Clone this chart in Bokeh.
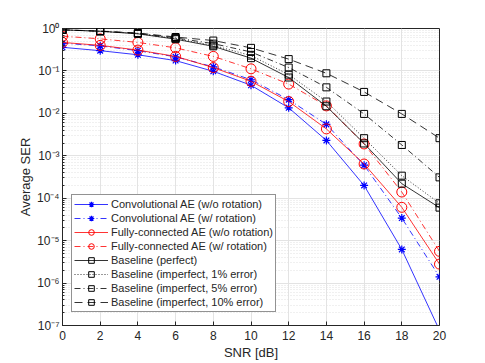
from bokeh.plotting import figure
from bokeh.models import (Range1d, CustomJSTickFormatter, FixedTicker,
                          Legend, LegendItem, LogTicker)
from bokeh.embed import file_html
from bokeh.resources import INLINE

snr = [0, 2, 4, 6, 8, 10, 12, 14, 16, 18, 20]
conv_wo = [0.36, 0.30, 0.24, 0.175, 0.098, 0.046, 0.0135, 0.0023, 2.0e-4, 6.2e-6, 7.7e-8]
conv_w = [0.45, 0.39, 0.30, 0.215, 0.125, 0.062, 0.021, 0.0055, 6.0e-4, 3.4e-5, 1.4e-6]
fc_wo = [0.47, 0.40, 0.31, 0.22, 0.12, 0.057, 0.019, 0.0043, 6.4e-4, 6.1e-5, 2.8e-6]
fc_w = [0.66, 0.57, 0.47, 0.35, 0.22, 0.112, 0.049, 0.015, 1.9e-3, 1.4e-4, 5.6e-6]
base_perfect = [0.93, 0.86, 0.75, 0.56, 0.38, 0.20, 0.070, 0.0147, 1.95e-3, 2.2e-4, 6.0e-5]
base_1 = [0.93, 0.86, 0.76, 0.58, 0.40, 0.23, 0.082, 0.019, 2.6e-3, 3.4e-4, 7.6e-5]
base_5 = [0.93, 0.86, 0.77, 0.60, 0.44, 0.28, 0.12, 0.041, 0.0097, 1.8e-3, 3.1e-4]
base_10 = [0.93, 0.87, 0.78, 0.63, 0.52, 0.35, 0.19, 0.088, 0.032, 0.0097, 2.6e-3]

labels = ["Convolutional AE (w/o rotation)", "Convolutional AE (w/ rotation)",
          "Fully-connected AE (w/o rotation)", "Fully-connected AE (w/ rotation)",
          "Baseline (perfect)", "Baseline (imperfect, 1% error)",
          "Baseline (imperfect, 5% error)", "Baseline (imperfect, 10% error)"]
x_ticks = [0, 2, 4, 6, 8, 10, 12, 14, 16, 18, 20]

FONT = "Liberation Sans"
TXT = "#262626"

p = figure(width=485, height=363, y_axis_type="log", output_backend="svg",
           toolbar_location=None, x_range=Range1d(0, 20), y_range=Range1d(1e-7, 1),
           min_border_left=62, min_border_right=46, min_border_top=28, min_border_bottom=38)
p.background_fill_color = "white"
p.border_fill_color = "white"
p.outline_line_color = TXT
p.outline_line_width = 1

sup = CustomJSTickFormatter(code="""
const m = {'-':'\\u207b','0':'\\u2070','1':'\\u00b9','2':'\\u00b2','3':'\\u00b3','4':'\\u2074','5':'\\u2075','6':'\\u2076','7':'\\u2077','8':'\\u2078','9':'\\u2079'};
const e = String(Math.round(Math.log10(tick)));
let s = '';
for (const c of e) s += m[c];
return '10' + s;
""")

p.yaxis.ticker = LogTicker(num_minor_ticks=10, desired_num_ticks=8)
p.yaxis.formatter = sup
p.xaxis.ticker = FixedTicker(ticks=x_ticks)

for ax in [p.xaxis[0], p.yaxis[0]]:
    ax.major_tick_in = 4
    ax.major_tick_out = 0
    ax.minor_tick_in = 2
    ax.minor_tick_out = 0
    ax.axis_line_color = TXT
    ax.major_tick_line_color = TXT
    ax.minor_tick_line_color = TXT
    ax.major_label_text_font = FONT
    ax.major_label_text_font_size = "12px"
    ax.major_label_text_color = TXT
    ax.axis_label_text_font = FONT
    ax.axis_label_text_font_size = "13px"
    ax.axis_label_text_color = TXT
    ax.axis_label_text_font_style = "normal"
p.xaxis.minor_tick_line_color = None
p.xaxis.major_label_standoff = 5
p.xaxis.axis_label = "SNR [dB]"
p.xaxis.axis_label_standoff = 2
p.yaxis.axis_label = "Average SER"
p.yaxis.major_label_standoff = 3
p.yaxis.axis_label_standoff = 1

p.xgrid.grid_line_color = "#e3e3e3"
p.ygrid.grid_line_color = "#e3e3e3"
p.ygrid.minor_grid_line_color = "#e0e0e0"
p.ygrid.minor_grid_line_dash = "1 2"

series = [
    (conv_wo, "#0000ff", "solid", "asterisk"),
    (conv_w, "#0000ff", "6 3 1 3", "asterisk"),
    (fc_wo, "#ff0000", "solid", "circle"),
    (fc_w, "#ff0000", "6 3 1 3", "circle"),
    (base_perfect, "#000000", "solid", "square"),
    (base_1, "#000000", "1 2", "square"),
    (base_5, "#000000", "6 3 1 3", "square"),
    (base_10, "#000000", "8 5", "square"),
]

items = []
for (vals, col, dash, mk), lab in zip(series, labels):
    r1 = p.line(snr, vals, line_color=col, line_dash=dash, line_width=0.8)
    if mk == "asterisk":
        r2 = p.scatter(snr, vals, marker="asterisk", size=8, line_color=col, line_width=1.2)
    else:
        r2 = p.scatter(snr, vals, marker=mk, size=10 if mk == "circle" else 7,
                       line_color=col, fill_color=None, line_width=1)
    items.append(LegendItem(label=lab, renderers=[r1, r2]))

legend = Legend(items=items, location=(9, 13))
legend.label_text_font = FONT
legend.label_text_font_size = "11px"
legend.label_text_color = TXT
legend.glyph_width = 34
legend.glyph_height = 14
legend.label_height = 14
legend.spacing = 0
legend.padding = 2
legend.margin = 0
legend.label_standoff = 3
legend.border_line_color = TXT
legend.border_line_width = 1
legend.background_fill_alpha = 1
p.add_layout(legend)

open("out.html", "w").write(file_html(p, INLINE))
